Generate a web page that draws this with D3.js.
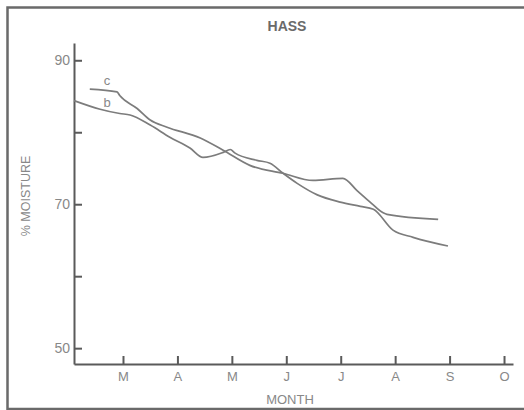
<!DOCTYPE html>
<html>
<head>
<meta charset="utf-8">
<script src="https://cdn.jsdelivr.net/npm/d3@7"></script>
<style>
  body { margin: 0; background: #fff; }
  svg { display: block; }
  text { font-family: "Liberation Sans", Arial, Helvetica, sans-serif; fill: #888; }
</style>
</head>
<body>
<div id="chart"></div>
<script>
// month ticks (3 = March ... 10 = October)
var monthTicks = [3, 4, 5, 6, 7, 8, 9, 10];
var monthLabels = ["M", "A", "M", "J", "J", "A", "S", "O"];
var moistureTicks = [50, 60, 70, 80, 90];
var moistureLabels = [50, 70, 90];

// curve b
var bMonths = [2.10, 2.58, 2.94, 3.13, 3.50, 3.86, 4.23, 4.47, 4.84, 4.97, 5.06, 5.46, 5.70, 5.94, 6.20, 6.57, 6.99, 7.36, 7.60, 7.96, 8.33, 8.97];
var bMoisture = [84.4, 83.2, 82.6, 82.4, 81.0, 79.3, 77.8, 76.5, 77.2, 77.6, 77.1, 76.1, 75.7, 74.3, 72.9, 71.3, 70.3, 69.7, 69.3, 66.4, 65.4, 64.2];

// curve c
var cMonths = [2.39, 2.89, 2.94, 3.26, 3.50, 3.81, 4.42, 4.84, 5.33, 5.94, 6.49, 7.04, 7.30, 7.54, 7.78, 7.85, 8.79];
var cMoisture = [86.0, 85.6, 85.1, 83.3, 81.7, 80.7, 79.2, 77.5, 75.4, 74.3, 73.3, 73.6, 71.9, 70.3, 68.8, 68.6, 67.9];

var svgWidth = 524;
var svgHeight = 410;

var svg = d3.select("#chart")
  .append("svg")
  .attr("width", svgWidth)
  .attr("height", svgHeight);

// frame round the figure (left, top, bottom)
svg.append("path")
  .attr("d", "M7.5,410 V7.5 H524 M7.5,409 H524")
  .attr("fill", "none")
  .attr("stroke", "#6a6a6a")
  .attr("stroke-width", 2.5);

// scales
var x = d3.scaleLinear()
  .domain([2.1, 10.165])
  .range([74, 513]);

var y = d3.scaleLinear()
  .domain([47.8, 92.4])
  .range([364, 43]);

// axes
var bottomAxis = d3.axisBottom(x)
  .tickValues(monthTicks)
  .tickFormat((d, i) => monthLabels[i])
  .tickSizeInner(-8)
  .tickSizeOuter(0)
  .tickPadding(8);

var leftAxis = d3.axisLeft(y)
  .tickValues(moistureTicks)
  .tickFormat(d => moistureLabels.includes(d) ? d : "")
  .tickSizeInner(-8)
  .tickSizeOuter(0)
  .tickPadding(4);

var xAxisG = svg.append("g")
  .attr("transform", `translate(0, ${y.range()[0]})`)
  .call(bottomAxis);

var yAxisG = svg.append("g")
  .attr("transform", `translate(${x.range()[0]}, 0)`)
  .call(leftAxis);

[xAxisG, yAxisG].forEach(function(g) {
  g.selectAll("path, line")
    .attr("stroke", "#5a5a5a")
    .attr("stroke-width", 2);
  g.selectAll("text")
    .attr("fill", "#8a8a8a")
    .style("font-family", "'Liberation Sans', Arial, sans-serif");
});
xAxisG.selectAll("text").attr("font-size", 13);
yAxisG.selectAll("text").attr("font-size", 14);

// moisture curves
var line = d3.line()
  .x(d => x(d[0]))
  .y(d => y(d[1]))
  .curve(d3.curveMonotoneX);

var curves = [
  d3.zip(bMonths, bMoisture),
  d3.zip(cMonths, cMoisture)
];

svg.selectAll(".curve")
  .data(curves)
  .enter()
  .append("path")
  .attr("class", "curve")
  .attr("d", line)
  .attr("fill", "none")
  .attr("stroke", "#7c7c7c")
  .attr("stroke-width", 1.7)
  .attr("stroke-linejoin", "round");

// curve labels
svg.append("text")
  .attr("x", 107)
  .attr("y", 85)
  .attr("text-anchor", "middle")
  .attr("font-size", 13)
  .text("c");

svg.append("text")
  .attr("x", 107)
  .attr("y", 107)
  .attr("text-anchor", "middle")
  .attr("font-size", 13)
  .text("b");

// title and axis titles
svg.append("text")
  .attr("x", 287)
  .attr("y", 31)
  .attr("text-anchor", "middle")
  .attr("font-size", 14)
  .attr("font-weight", "bold")
  .style("fill", "#6a6a6a")
  .text("HASS");

svg.append("text")
  .attr("transform", "translate(30, 196) rotate(-90)")
  .attr("text-anchor", "middle")
  .attr("font-size", 12.5)
  .text("% MOISTURE");

svg.append("text")
  .attr("x", 290)
  .attr("y", 404)
  .attr("text-anchor", "middle")
  .attr("font-size", 13)
  .text("MONTH");
</script>
</body>
</html>
